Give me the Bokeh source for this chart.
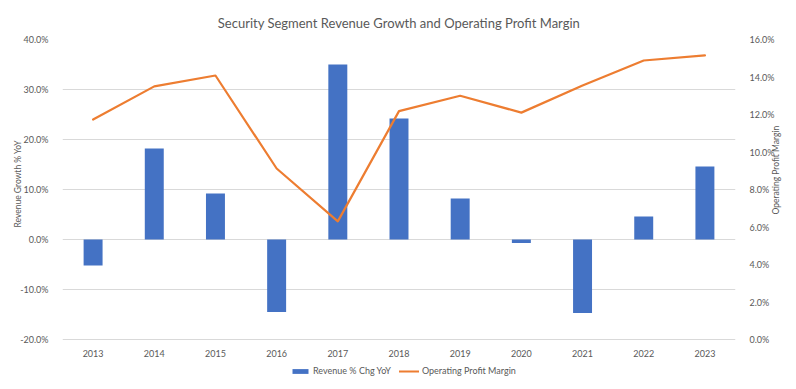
import math
from bokeh.plotting import figure
from bokeh.models import (FactorRange, Range1d, LinearAxis, FixedTicker, Title,
                          NumeralTickFormatter, Legend, LegendItem, ColumnDataSource)
from bokeh.embed import file_html
from bokeh.resources import INLINE

years = ["2013", "2014", "2015", "2016", "2017", "2018", "2019", "2020", "2021", "2022", "2023"]
revenue_growth = [-0.052, 0.182, 0.092, -0.145, 0.350, 0.242, 0.082, -0.007, -0.147, 0.046, 0.146]
op_margin = [0.1173, 0.1350, 0.1408, 0.0912, 0.0630, 0.1218, 0.1300, 0.1210, 0.1355, 0.1488, 0.1515]
left_ticks = [-0.2, -0.1, 0.0, 0.1, 0.2, 0.3, 0.4]
right_ticks = [0.0, 0.02, 0.04, 0.06, 0.08, 0.10, 0.12, 0.14, 0.16]

FONT = "Lato"
TXT = "#595959"
GRID = "#D9D9D9"

# gridded area is 300px tall (-20%..40%, 0%..16%); the frame continues 50px
# below it to hold the category labels and the legend
LEFT_MIN, LEFT_MAX = -0.2, 0.4
RIGHT_MIN, RIGHT_MAX = 0.0, 0.16
GRID_PX, EXTRA_PX = 300, 50
left_lo = LEFT_MIN - (LEFT_MAX - LEFT_MIN) * EXTRA_PX / GRID_PX
right_lo = RIGHT_MIN - (RIGHT_MAX - RIGHT_MIN) * EXTRA_PX / GRID_PX

src = ColumnDataSource(dict(year=years, growth=revenue_growth, margin=op_margin))

p = figure(width=796, height=389, x_range=FactorRange(factors=years),
           y_range=Range1d(left_lo, LEFT_MAX), output_backend="svg", toolbar_location=None,
           min_border_left=62, min_border_right=61, min_border_top=39, min_border_bottom=0,
           title="Security Segment Revenue Growth and Operating Profit Margin")
p.extra_y_ranges = {"right": Range1d(right_lo, RIGHT_MAX)}

p.title.align = "center"
p.title.text_font = FONT
p.title.text_font_size = "13px"
p.title.text_font_style = "normal"
p.title.text_color = TXT
p.title.standoff = 18

p.outline_line_color = None
p.background_fill_color = "white"
p.border_fill_color = "white"
p.xgrid.grid_line_color = None
p.ygrid.grid_line_color = GRID
p.ygrid.ticker = FixedTicker(ticks=left_ticks)

bars = p.vbar(x="year", top="growth", bottom=0, width=0.31, source=src,
              fill_color="#4472C4", line_color=None)
line = p.line(x="year", y="margin", source=src, y_range_name="right",
              line_color="#ED7D31", line_width=2.2, line_cap="round", line_join="round")

xa = p.xaxis[0]
xa.fixed_location = LEFT_MIN

yl = p.yaxis[0]
yl.ticker = FixedTicker(ticks=left_ticks)
yl.formatter = NumeralTickFormatter(format="0.0%")

yr = LinearAxis(y_range_name="right", ticker=FixedTicker(ticks=right_ticks),
                formatter=NumeralTickFormatter(format="0.0%"),
                axis_label="Operating Profit Margin")
p.add_layout(yr, "right")

for ax in [xa, yl, yr]:
    ax.axis_line_color = None
    ax.major_tick_line_color = None
    ax.minor_tick_line_color = None
    ax.major_label_text_font = FONT
    ax.major_label_text_font_size = "9px"
    ax.major_label_text_color = TXT
    ax.axis_label_text_font = FONT
    ax.axis_label_text_font_size = "8.5px"
    ax.axis_label_text_font_style = "normal"
    ax.axis_label_text_color = TXT
    ax.major_label_standoff = 8

yr.axis_label_standoff = -1
yr.axis_label_orientation = math.pi / 2
xa.major_label_standoff = 4

left_title = Title(text="Revenue Growth % YoY", align="left", offset=162, standoff=-11,
                   text_font=FONT, text_font_size="8.5px", text_font_style="normal",
                   text_color=TXT)
p.add_layout(left_title, "left")

legend = Legend(items=[LegendItem(label="Revenue % Chg YoY", renderers=[bars]),
                       LegendItem(label="Operating Profit Margin", renderers=[line])],
                orientation="horizontal", location=(228, 13),
                glyph_width=20, glyph_height=6, label_height=10, label_standoff=3,
                spacing=8, padding=0, margin=0,
                label_text_font=FONT, label_text_font_size="9px", label_text_color=TXT,
                border_line_color=None, background_fill_alpha=0)
p.add_layout(legend, "center")

open("out.html", "w").write(file_html(p, INLINE))
